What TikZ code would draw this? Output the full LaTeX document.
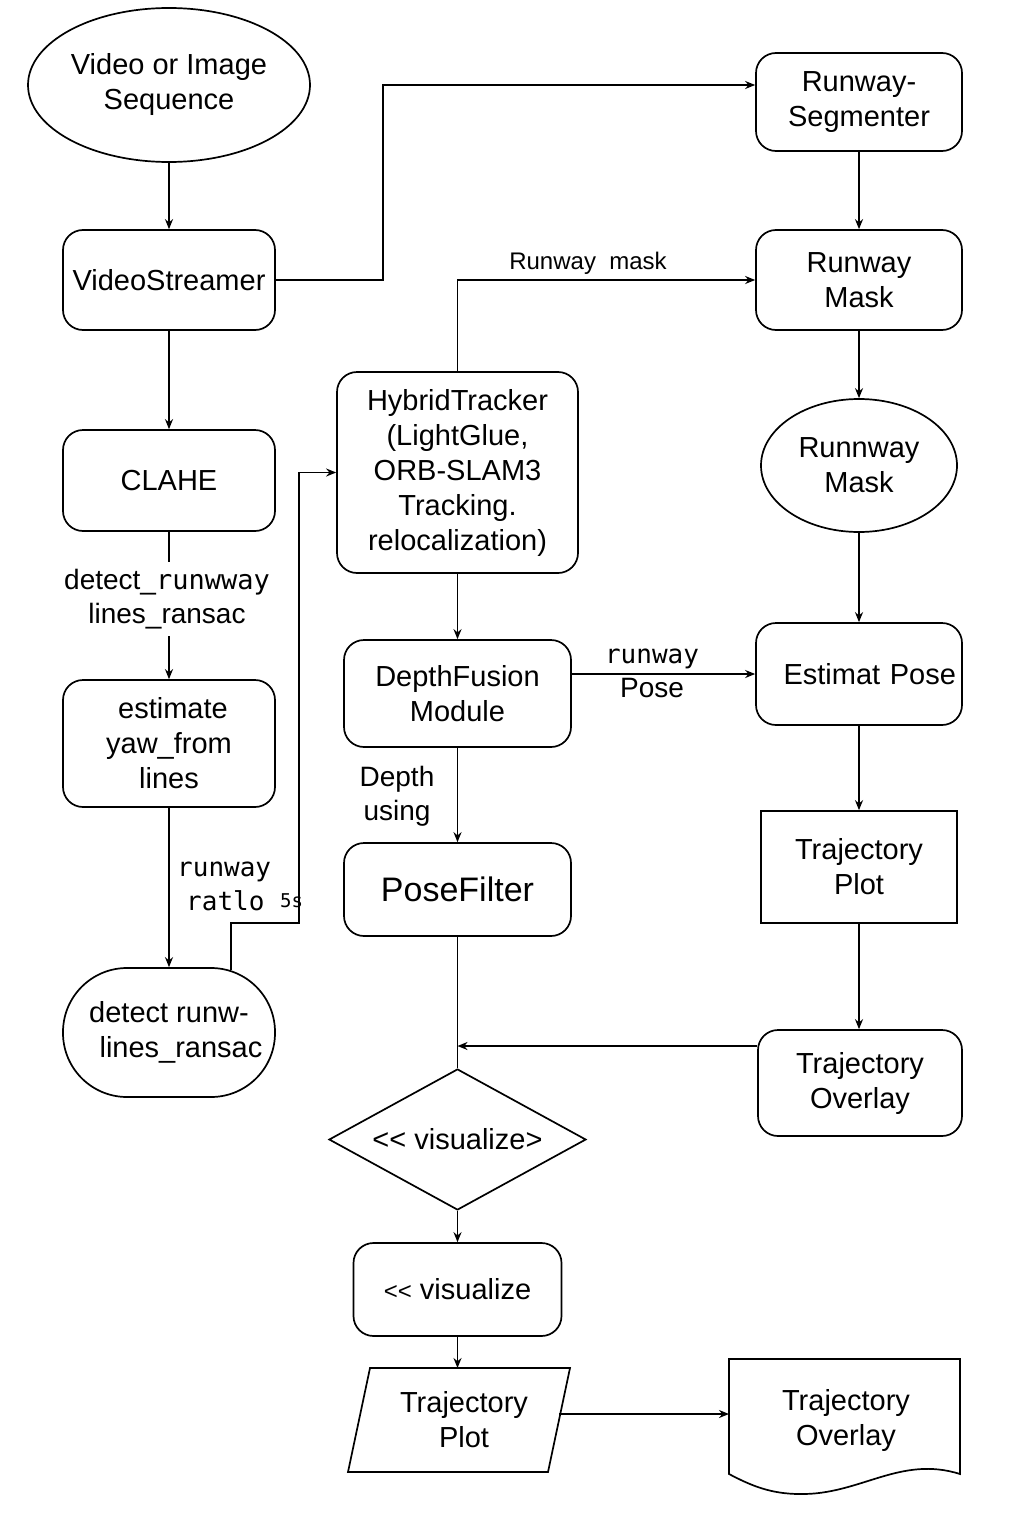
\documentclass[tikz,border=0pt]{standalone}
\usepackage{fontspec}
\setmainfont{Liberation Sans}
\setmonofont{DejaVu Sans Mono}
\usetikzlibrary{shapes.geometric,arrows.meta}
\begin{document}
\begin{tikzpicture}[x=1pt,y=-1pt,
  every node/.style={font=\fontsize{29}{35}\selectfont, align=center, inner sep=0pt},
  ln/.style={line width=1.7pt},
  arr/.style={ln, -{Stealth[length=10pt,width=8pt]}},
  rbox/.style={draw, ln, rounded corners=20pt},
  sbox/.style={draw, ln},
  ell/.style={draw, ln, ellipse},
  lab/.style={font=\fontsize{28}{34}\selectfont},
  small/.style={font=\fontsize{24}{28}\selectfont}]
\useasboundingbox (0,0) rectangle (1024,1536);

% left column
\node[ell, minimum width=282pt, minimum height=154pt] (vis) at (169,85)
  {\makebox[150pt]{Video or Image}\\\makebox[150pt]{Sequence}};
\node[rbox, minimum width=212pt, minimum height=100pt] (vs) at (169,280) {VideoStreamer};
\node[rbox, minimum width=212pt, minimum height=101pt] (clahe) at (169,480.5) {CLAHE};
\node[lab, minimum height=74pt] (lbl1) at (167,599) {detect\_{\ttfamily\fontsize{27}{34}\selectfont runwway}\\lines\_ransac};
\node[rbox, minimum width=212pt, minimum height=127pt] (yaw) at (169,743.5) {\hspace*{8pt}estimate\\yaw\_from\\lines};
\node[sbox, rounded corners=64pt, minimum width=212pt, minimum height=129pt] (det) at (169,1032.5) {detect runw-\\\hspace*{24pt}lines\_ransac};
\node[lab, font=\ttfamily\fontsize{26}{34}\selectfont, align=left, anchor=west] (lbl2) at (177,886) {runway\\\hspace*{9pt}ratlo {\fontsize{19}{20}\selectfont\raisebox{3pt}{5s}}};

% middle column
\node[rbox, minimum width=241pt, minimum height=201pt] (ht) at (457.5,472.5)
  {HybridTracker\\(LightGlue,\\ORB-SLAM3\\Tracking.\\relocalization)};
\node[rbox, minimum width=227pt, minimum height=107pt] (dfm) at (457.5,693.5) {DepthFusion\\Module};
\node[rbox, minimum width=227pt, minimum height=93pt, font=\fontsize{34}{40}\selectfont] (pf) at (457.5,889.5) {PoseFilter};
\node[draw, ln, diamond, aspect=1.82, minimum width=257pt, minimum height=141pt] (dia) at (457.5,1139.5) {<{}< visualize>};
\node[rbox, minimum width=208pt, minimum height=93pt] (vis2) at (457.5,1289.5) {{\fontsize{24}{28}\selectfont<{}<} visualize};
\draw[ln] (370,1368) -- (570,1368) -- (548,1472) -- (348,1472) -- cycle;
\node (para) at (464,1420) {Trajectory\\Plot};
\draw[ln] (729,1359) -- (960,1359) -- (960,1474)
  .. controls (900,1455) and (860,1495) .. (800,1494)
  .. controls (770,1494) and (750,1485) .. (729,1474) -- cycle;
\node (doc) at (846,1420) {Trajectory\\Overlay};
\node[lab] (lbl3) at (397,796) {Depth\\using};
\node[lab] (lbl4) at (652,673) {{\ttfamily\fontsize{26}{34}\selectfont runway}\\Pose};
\node[small] (lbl5) at (588,263) {Runway\ \ mask};

% right column
\node[rbox, minimum width=206pt, minimum height=98pt] (seg) at (859,102) {Runway-\\Segmenter};
\node[rbox, minimum width=206pt, minimum height=100pt] (rmask) at (859,280) {Runway\\Mask};
\node[ell, minimum width=196pt, minimum height=133pt] (rell) at (859,465.5) {Runnway\\Mask};
\node[rbox, minimum width=206pt, minimum height=102pt, text width=194pt, align=right, inner xsep=6pt] (est) at (859,674) {Estimat Pose};
\node[sbox, minimum width=196pt, minimum height=112pt] (tplot) at (859,867) {Trajectory\\Plot};
\node[rbox, minimum width=204pt, minimum height=106pt] (tover) at (860,1083) {Trajectory\\Overlay};

% coordinates
\coordinate (k1) at (383,85);
\coordinate (k2) at (299,923);
\coordinate (j1) at (457.5,1046);
\coordinate (paraT) at (457.5,1368);
\coordinate (paraR) at (559,1414);
\coordinate (docW) at (729,1414);

% connectors
\draw[arr] (vis) -- (vs);
\draw[arr] (vs.east) -| (k1) -- (k1 -| seg.west);
\draw[arr] (vs) -- (clahe);
\draw[ln] (clahe.south) -- (clahe.south |- lbl1.north);
\draw[arr] (clahe.south |- lbl1.south) -- (yaw.north);
\draw[arr] (yaw) -- (det);
\draw[arr] ([xshift=62pt,yshift=-3pt]det.north) |- (k2) |- (ht.west);
\draw[arr] (ht.north) |- (rmask.west);
\draw[arr] (seg) -- (rmask);
\draw[arr] (rmask) -- (rell);
\draw[arr] (rell) -- (est);
\draw[arr] (est) -- (tplot);
\draw[arr] (tplot.south) -- (tplot.south |- tover.north);
\draw[arr] ([yshift=37pt]tover.west) -- (j1);
\draw[arr] (ht) -- (dfm);
\draw[arr] (dfm.east |- est.west) -- (est.west);
\draw[arr] (dfm) -- (pf);
\draw[ln] (pf.south) -- (dia.north);
\draw[arr] (dia) -- (vis2);
\draw[arr] (vis2.south) -- (paraT);
\draw[arr] (paraR) -- (docW);
\end{tikzpicture}
\end{document}
